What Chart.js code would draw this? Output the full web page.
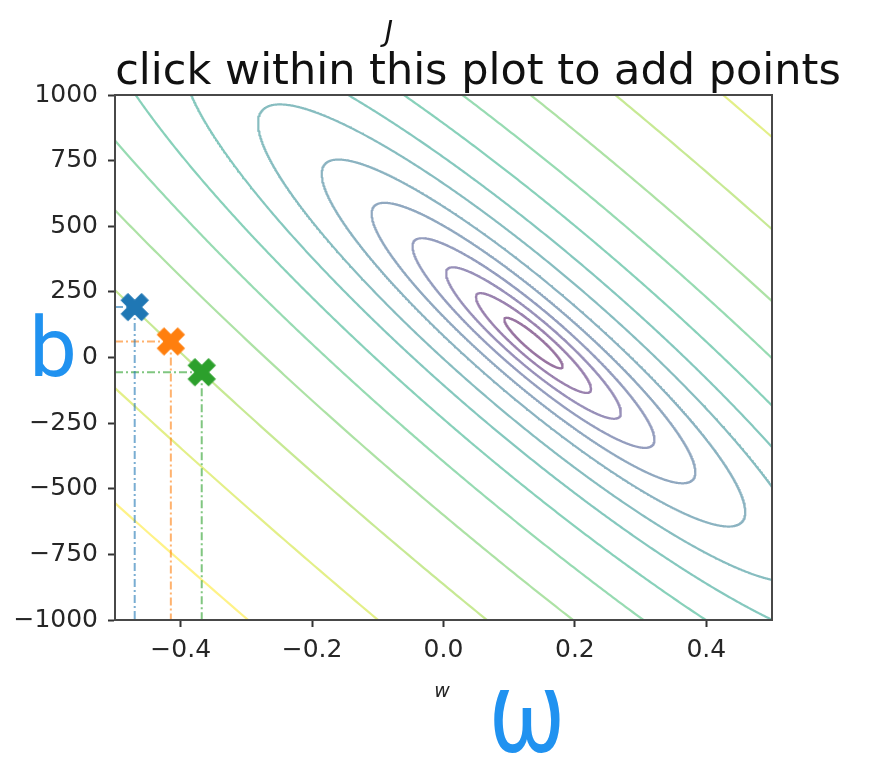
<!DOCTYPE html>
<html><head><meta charset="utf-8">
<script src="https://cdn.jsdelivr.net/npm/chart.js@4.4.1/dist/chart.umd.min.js"></script>
<style>html,body{margin:0;padding:0;background:#fff;}canvas{display:block;}</style>
</head><body>
<canvas id="c" width="896" height="777"></canvas>
<script>
// ---------------- data ----------------
const W_LIMITS = [-0.5, 0.5];
const B_LIMITS = [-1000, 1000];
const W_TICKS = [-0.4, -0.2, 0.0, 0.2, 0.4];
const B_TICKS = [-1000, -750, -500, -250, 0, 250, 500, 750, 1000];

// cost surface  J(w,b) = J_MIN + 1/2 * (X2_MEAN*dw^2 + 2*X_MEAN*dw*db + db^2)
const W_MIN = 0.137;
const B_MIN = 55;
const J_MIN = 2400;
const X_MEAN = 1998;
const X2_MEAN = 4.702e6;
// contour levels of J (one per drawn contour line)
const J_LEVELS = [3100, 5125, 8685, 14440, 23950, 39290, 64800, 103300, 167700, 272000, 440600, 720500, 1189400, 1918100];

// clicked points
const POINT_W = [-0.470, -0.415, -0.368];
const POINT_B = [192, 61, -56];
const POINT_COLORS = ['#1f77b4', '#ff7f0e', '#2ca02c'];

// ---------------- helpers ----------------
const VIRIDIS = ['#440154','#482475','#414487','#355f8d','#2a788e','#21918c','#22a884','#44bf70','#7ad151','#bddf26','#fde725'];
function hexToRgb(h){return [parseInt(h.slice(1,3),16),parseInt(h.slice(3,5),16),parseInt(h.slice(5,7),16)];}
function viridis(t, alpha){
  const n = VIRIDIS.length - 1;
  const x = Math.min(Math.max(t,0),1)*n;
  const i = Math.min(Math.floor(x), n-1);
  const f = x - i;
  const a = hexToRgb(VIRIDIS[i]), b = hexToRgb(VIRIDIS[i+1]);
  const c = a.map((v,k)=>Math.round(v+(b[k]-v)*f));
  return `rgba(${c[0]},${c[1]},${c[2]},${alpha})`;
}
function rgba(hex, a){const c=hexToRgb(hex);return `rgba(${c[0]},${c[1]},${c[2]},${a})`;}

// points of the iso-line J(w,b) = level
function contourPoints(level){
  const R = Math.sqrt(2*(level - J_MIN));
  const k = Math.sqrt(X2_MEAN - X_MEAN*X_MEAN);
  const pts = [];
  const N = 1440;
  for (let i=0;i<=N;i++){
    const phi = 2*Math.PI*i/N;
    const e = R*Math.cos(phi), f = R*Math.sin(phi);
    const dw = f/k;
    const db = e - X_MEAN*dw;
    pts.push({x: W_MIN + dw, y: B_MIN + db});
  }
  return pts;
}

// filled "X" marker (matplotlib style)
function makeMarker(color){
  const S = 29;
  const cv = document.createElement('canvas');
  cv.width = 32; cv.height = 32;
  const g = cv.getContext('2d');
  const verts = [[-1,-3],[1,-3],[1,-1],[3,-1],[3,1],[1,1],[1,3],[-1,3],[-1,1],[-3,1],[-3,-1],[-1,-1]];
  const c = Math.SQRT1_2;
  g.beginPath();
  verts.forEach((v,i)=>{
    const x = v[0]*S/6, y = v[1]*S/6;
    const xr = (x - y)*c + 16, yr = (x + y)*c + 16;
    if (i===0) g.moveTo(xr,yr); else g.lineTo(xr,yr);
  });
  g.closePath();
  g.fillStyle = color;
  g.fill();
  g.lineJoin = 'round';
  g.lineWidth = 1;
  g.strokeStyle = color;
  g.stroke();
  return cv;
}
const markerImgs = POINT_COLORS.map(makeMarker);

const minusFmt = s => String(s).replace('-', '\u2212');

// ---------------- datasets ----------------
const datasets = [];
datasets.push({
  label: 'points',
  data: POINT_W.map((w,i)=>({x:w, y:POINT_B[i]})),
  showLine: false,
  pointRadius: 14,
  pointHoverRadius: 14,
  pointStyle: ctx => markerImgs[ctx.dataIndex % markerImgs.length],
  order: 0
});
POINT_W.forEach((w,i)=>{
  const col = rgba(POINT_COLORS[i], 0.6);
  datasets.push({
    label: 'v'+i,
    data: [{x:w, y:POINT_B[i]}, {x:w, y:B_LIMITS[0]}],
    showLine: true, pointRadius: 0, borderColor: col, borderWidth: 2,
    borderDash: [8,3,2,3], order: 1
  });
  datasets.push({
    label: 'h'+i,
    data: [{x:W_LIMITS[0], y:POINT_B[i]}, {x:w, y:POINT_B[i]}],
    showLine: true, pointRadius: 0, borderColor: col, borderWidth: 2,
    borderDash: [8,3,2,3], order: 1
  });
});
J_LEVELS.forEach((lv,i)=>{
  datasets.push({
    label: 'J=' + lv,
    data: contourPoints(lv),
    showLine: true, pointRadius: 0, borderWidth: 2.2,
    borderColor: viridis(i/(J_LEVELS.length-1), 0.55),
    borderCapStyle: 'round', borderJoinStyle: 'round',
    tension: 0, order: 2
  });
});

// ---------------- plugins ----------------
const framePlugin = {
  id: 'frame',
  afterDatasetsDraw(chart){
    const {ctx, chartArea:a} = chart;
    ctx.save();
    ctx.strokeStyle = '#484848';
    ctx.lineWidth = 2;
    ctx.strokeRect(a.left, a.top, a.right - a.left, a.bottom - a.top);
    ctx.restore();
  }
};
const textPlugin = {
  id: 'texts',
  afterDraw(chart){
    const ctx = chart.ctx;
    ctx.save();
    ctx.textAlign = 'center';
    ctx.textBaseline = 'alphabetic';
    ctx.fillStyle = '#111';
    ctx.font = 'italic 28px "DejaVu Sans"';
    ctx.fillText('J', 389, 41);
    ctx.font = '43px "DejaVu Sans"';
    ctx.fillText('click within this plot to add points', 478, 84);
    ctx.fillStyle = '#262626';
    ctx.font = 'italic 19px "DejaVu Sans"';
    ctx.fillText('w', 442, 697);
    // handwritten annotations
    ctx.fillStyle = 'rgb(32,146,240)';
    ctx.font = '84px Roboto';
    ctx.fillText('b', 53, 376);
    ctx.save();
    ctx.translate(527, 752);
    ctx.scale(0.8, 1);
    ctx.font = '116px Roboto';
    ctx.fillText('\u03c9', 0, 0);
    ctx.restore();
    ctx.restore();
  }
};

new Chart(document.getElementById('c'), {
  type: 'scatter',
  data: { datasets },
  plugins: [framePlugin, textPlugin],
  options: {
    responsive: false,
    animation: false,
    events: [],
    layout: { padding: { top: 95, right: 124, left: 0, bottom: 0 } },
    plugins: { legend: {display:false}, tooltip: {enabled:false}, title: {display:false} },
    scales: {
      x: {
        type: 'linear', min: W_LIMITS[0], max: W_LIMITS[1],
        afterBuildTicks: s => { s.ticks = W_TICKS.map(v=>({value:v})); },
        afterFit: s => { s.height = 157; },
        grid: { display: true, drawOnChartArea: false, drawTicks: true, tickLength: 7, tickWidth: 2, tickColor: '#333' },
        border: { display: true, color: '#484848', width: 2 },
        ticks: { font: { family: 'DejaVu Sans', size: 25 }, color: '#262626', padding: 8, maxRotation: 0, autoSkip: false,
                 callback: v => minusFmt(Number(v).toFixed(1)) }
      },
      y: {
        type: 'linear', min: B_LIMITS[0], max: B_LIMITS[1],
        afterBuildTicks: s => { s.ticks = B_TICKS.map(v=>({value:v})); },
        afterFit: s => { s.width = 115; },
        grid: { display: true, drawOnChartArea: false, drawTicks: true, tickLength: 7, tickWidth: 2, tickColor: '#333' },
        border: { display: true, color: '#484848', width: 2 },
        ticks: { font: { family: 'DejaVu Sans', size: 25 }, color: '#262626', padding: 10, autoSkip: false,
                 callback: v => minusFmt(Math.round(v)) }
      }
    }
  }
});
</script>
</body></html>
